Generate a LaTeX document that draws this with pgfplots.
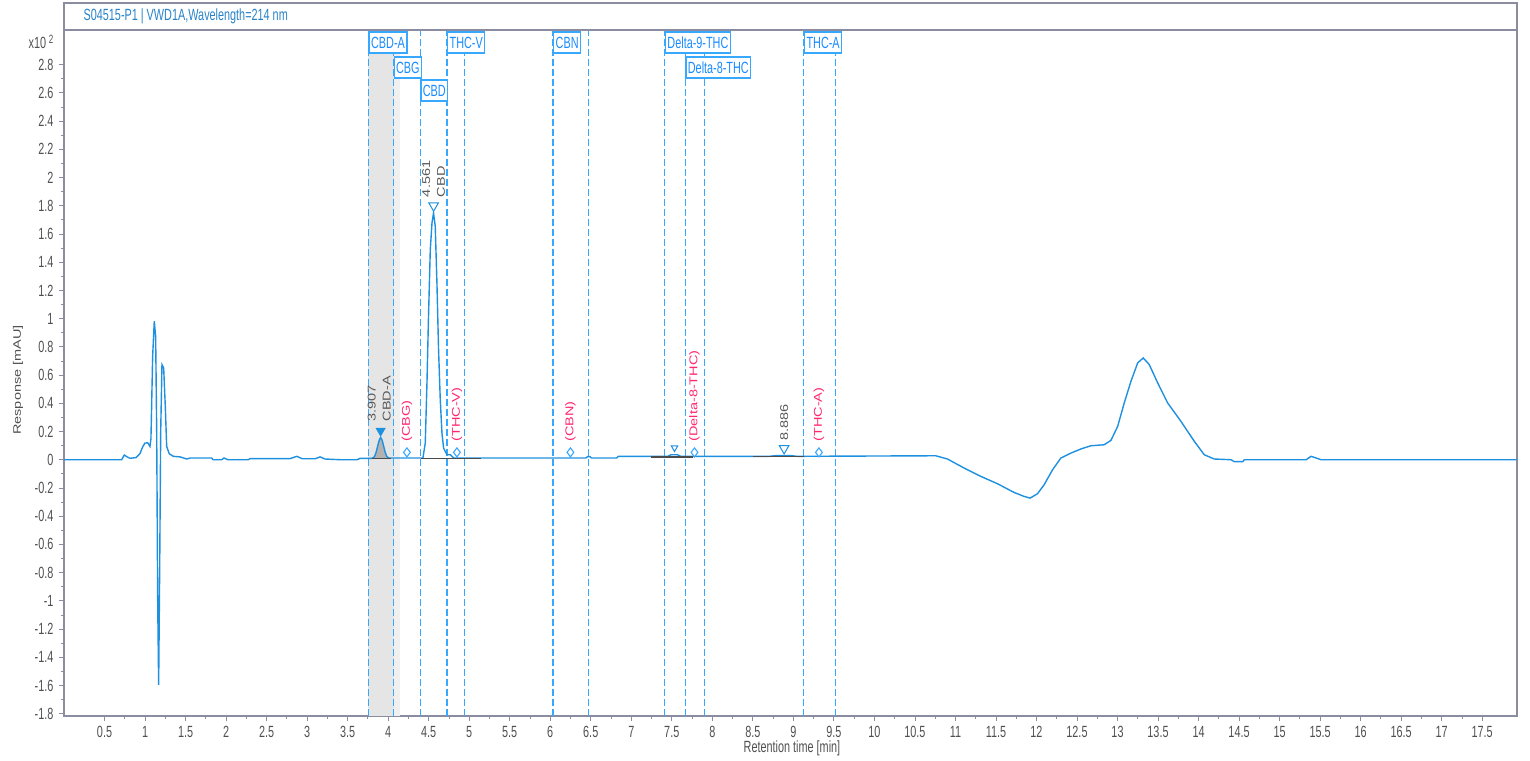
\documentclass[border=0pt]{standalone}
\usepackage{pgfplots}
\pgfplotsset{compat=1.18}
\usepackage{fontspec}
\setmainfont{Liberation Sans}[FakeStretch=0.67]
\newfontfamily\rotfont{Liberation Sans}
\definecolor{trace}{RGB}{30,144,224}
\definecolor{win}{RGB}{56,168,255}
\definecolor{boxtext}{RGB}{25,140,255}
\definecolor{miss}{RGB}{255,40,110}
\definecolor{framec}{RGB}{140,140,160}
\definecolor{ticklab}{RGB}{80,80,80}
\definecolor{titlec}{RGB}{40,130,200}
\newcommand\hfont{\fontsize{16.2bp}{18bp}\selectfont}
\newcommand\rfont{\rotfont\fontsize{14.5bp}{19bp}\selectfont}
\tikzset{
  rlab/.style={rotate=90, yscale=0.78, anchor=west, font=\rfont, inner sep=0pt, align=left},
  winbox/.style={anchor=north west, draw=win, fill=white, text=boxtext, line width=1.3bp,
    inner sep=2bp, minimum height=21bp, font=\hfont},
}
\begin{document}
\hfont
\begin{tikzpicture}
\begin{axis}[
  scale only axis, width=1453bp, height=686bp,
  xmin=0, xmax=17.93, ymin=-1.816, ymax=3.045,
  axis line style={framec, line width=1.3bp},
  xtick={0.5,1,...,17.5}, minor x tick num=1,
  ytick={-1.8,-1.6,-1.4,-1.2,-1,-0.8,-0.6,-0.4,-0.2,0,0.2,0.4,0.6,0.8,1,1.2,1.4,1.6,1.8,2,2.2,2.4,2.6,2.8},
  minor y tick num=1,
  tick align=outside, tick pos=left,
  major tick length=5bp, minor tick length=3bp,
  every tick/.style={framec, line width=0.8bp},
  ticklabel style={ticklab, font=\hfont},
  /pgf/number format/assume math mode=true,
  /pgf/number format/fixed,
]
% shaded CBD-A window
\addplot[fill=black!10, draw=none] coordinates {(3.757,-1.816) (4.066,-1.816) (4.066,3.045) (3.757,3.045)};
\addplot[fill=black!6, draw=none] coordinates {(4.066,-1.816) (4.14,-1.816) (4.14,3.045) (4.066,3.045)};
% window limits
\pgfplotsinvokeforeach{3.757,4.066,4.396,4.726,4.939,6.035,6.475,7.414,7.666,7.908,9.130,9.518}{
  \draw[win, dash pattern=on 7bp off 3bp, line width=1.2bp] (axis cs:#1,-1.816) -- (axis cs:#1,3.045);
}
% area of CBD-A
\addplot[fill=black!30, draw=none] coordinates {
  (3.80,0.01) (3.83,0.02) (3.85,0.05) (3.87,0.095) (3.89,0.14) (3.907,0.158) (3.925,0.14)
  (3.945,0.095) (3.965,0.05) (3.985,0.022) (4.01,0.012) (4.04,0.01)};
% signal
\addplot[trace, line width=1.4bp] coordinates {
  (0,0) (0.711,0) (0.744,0.033) (0.78,0.02) (0.814,0.01) (0.888,0.015) (0.937,0.042) (0.97,0.09)
  (0.999,0.118) (1.033,0.12) (1.061,0.094) (1.073,0.15) (1.094,0.733) (1.114,0.981) (1.131,0.875)
  (1.144,0.189) (1.156,-0.993) (1.168,-1.596) (1.181,-0.757) (1.193,0.189) (1.209,0.674) (1.230,0.65)
  (1.250,0.378) (1.267,0.094) (1.299,0.042) (1.349,0.024) (1.432,0.02) (1.514,0.005) (1.555,0.012)
  (1.823,0.012) (1.839,0) (1.947,0) (1.975,0.012) (2.021,0) (2.275,0) (2.296,0.008) (2.79,0.008)
  (2.873,0.024) (2.94,0.007) (3.10,0.007) (3.161,0.02) (3.22,0.005) (3.408,0) (3.618,0) (3.655,0.01)
  (3.80,0.01) (3.83,0.02) (3.85,0.05) (3.87,0.095) (3.89,0.14) (3.907,0.158) (3.925,0.14) (3.945,0.095)
  (3.965,0.05) (3.985,0.022) (4.01,0.012)
  (4.429,0.012) (4.458,0.118) (4.479,0.544) (4.498,1.017) (4.520,1.489) (4.541,1.678) (4.560,1.749)
  (4.581,1.655) (4.602,1.253) (4.622,0.78) (4.643,0.426) (4.664,0.189) (4.684,0.083) (4.726,0.035)
  (4.767,0.035) (4.807,0.012)
  (6.44,0.012) (6.46,0.022) (6.49,0.022) (6.51,0.012) (6.82,0.012) (6.84,0.024) (7.45,0.024)
  (7.49,0.035) (7.57,0.035) (7.61,0.024) (8.70,0.024) (8.80,0.03) (8.95,0.03) (9.05,0.024)
  (10.757,0.028) (10.902,0.005) (11.107,-0.059) (11.313,-0.118) (11.519,-0.17) (11.724,-0.232)
  (11.848,-0.26) (11.922,-0.272) (12.013,-0.241) (12.095,-0.177) (12.199,-0.071) (12.301,0.012)
  (12.425,0.047) (12.548,0.076) (12.672,0.099) (12.836,0.106) (12.919,0.137) (13.002,0.236)
  (13.083,0.402) (13.166,0.556) (13.249,0.686) (13.318,0.721) (13.392,0.674) (13.496,0.544)
  (13.619,0.402) (13.783,0.272) (13.948,0.13) (14.071,0.035) (14.195,0.005) (14.401,0)
  (14.442,-0.014) (14.545,-0.014) (14.565,0) (15.327,0) (15.389,0.024) (15.463,0.01) (15.51,0)
  (17.93,0)};
% integration baselines
\addplot[black!70, line width=1.5bp] coordinates {(3.80,0.01) (4.04,0.01)};
\addplot[black!70, line width=1.5bp] coordinates {(4.40,0.01) (5.14,0.01)};
\addplot[black!70, line width=1.5bp] coordinates {(7.24,0.02) (7.76,0.02)};
\addplot[black!70, line width=1.5bp] coordinates {(8.50,0.022) (9.13,0.022)};
% peak markers
\addplot[only marks, mark=triangle*, mark size=5.5bp, trace, mark options={rotate=180, fill=trace}] coordinates {(3.907,0.205)};
\addplot[only marks, mark=triangle*, mark size=5.5bp, trace, mark options={rotate=180, fill=white, line width=1bp}] coordinates {(4.561,1.80) (8.886,0.08)};
\addplot[only marks, mark=triangle*, mark size=3.8bp, trace, mark options={rotate=180, fill=white, line width=1bp}] coordinates {(7.534,0.085)};
\addplot[only marks, mark=diamond*, mark size=4.5bp, win, mark options={fill=white, line width=1.1bp}] coordinates {
  (4.232,0.052) (4.849,0.052) (6.249,0.052) (7.780,0.052) (9.316,0.052)};
% peak labels
\node[rlab, text=black!65] at (axis cs:3.89,0.27) {3.907\\CBD-A};
\node[rlab, text=black!65] at (axis cs:4.56,1.86) {4.561\\CBD};
\node[rlab, text=black!65] at (axis cs:8.886,0.135) {8.886};
\node[rlab, text=miss] at (axis cs:4.232,0.128) {(CBG)};
\node[rlab, text=miss] at (axis cs:4.849,0.128) {(THC-V)};
\node[rlab, text=miss] at (axis cs:6.249,0.128) {(CBN)};
\node[rlab, text=miss] at (axis cs:7.780,0.128) {(Delta-8-THC)};
\node[rlab, text=miss] at (axis cs:9.316,0.128) {(THC-A)};
% window names
\node[winbox] at (axis cs:3.757,3.035) {CBD-A};
\node[winbox] at (axis cs:4.066,2.858) {CBG};
\node[winbox] at (axis cs:4.396,2.695) {CBD};
\node[winbox] at (axis cs:4.726,3.035) {THC-V};
\node[winbox] at (axis cs:6.035,3.035) {CBN};
\node[winbox] at (axis cs:7.414,3.035) {Delta-9-THC};
\node[winbox] at (axis cs:7.666,2.858) {Delta-8-THC};
\node[winbox] at (axis cs:9.130,3.035) {THC-A};
\end{axis}
% title bar and outer texts
\draw[framec, line width=1.3bp] (0,686bp) rectangle (1453bp,713bp);
\node[anchor=west, text=titlec, font=\hfont] at (14bp,700bp) {S04515-P1 | VWD1A,Wavelength=214 nm};
\node[anchor=east, text=ticklab, font=\hfont] at (-5bp,674bp) {x10\,\raisebox{5bp}{\fontsize{12bp}{12bp}\selectfont 2}};
\node[rotate=90, yscale=0.75, text=ticklab, font=\rfont] at (-46bp,336bp) {Response [mAU]};
\node[text=ticklab, font=\hfont] at (728bp,-32bp) {Retention time [min]};
\pgfresetboundingbox
\path (-64bp,-45bp) rectangle (1466bp,716bp);
\end{tikzpicture}
\end{document}
